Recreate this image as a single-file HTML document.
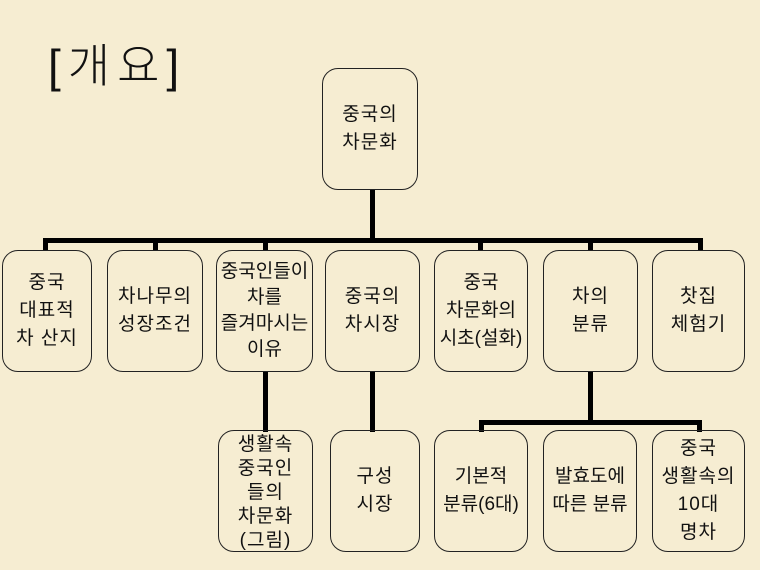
<!DOCTYPE html>
<html><head><meta charset="utf-8"><style>
body{margin:0;width:760px;height:570px;background:#f6edd2;position:relative;overflow:hidden;font-family:"Liberation Sans","Noto Sans CJK KR",sans-serif;}
.b{position:absolute;border:1.3px solid #222;border-radius:16px;box-sizing:border-box;display:flex;align-items:center;justify-content:center;text-align:center;font-size:19px;line-height:28px;letter-spacing:1px;color:#111;white-space:nowrap;overflow:visible;}
.l{position:absolute;background:#000;}
.t{position:absolute;left:48px;top:30px;font-size:46px;letter-spacing:7px;color:#111;font-weight:300;}
</style></head><body>
<div class="t">[개요]</div>
<div class="l" style="left:370px;top:190px;width:5px;height:52px"></div>
<div class="l" style="left:43px;top:238px;width:660px;height:5px"></div>
<div class="l" style="left:43px;top:238px;width:5px;height:13px"></div>
<div class="l" style="left:153px;top:238px;width:5px;height:13px"></div>
<div class="l" style="left:263px;top:238px;width:5px;height:13px"></div>
<div class="l" style="left:478px;top:238px;width:5px;height:13px"></div>
<div class="l" style="left:588px;top:238px;width:5px;height:13px"></div>
<div class="l" style="left:698px;top:238px;width:5px;height:13px"></div>
<div class="l" style="left:263px;top:372px;width:5px;height:60px"></div>
<div class="l" style="left:370px;top:372px;width:5px;height:60px"></div>
<div class="l" style="left:588px;top:372px;width:5px;height:52px"></div>
<div class="l" style="left:479px;top:420px;width:223px;height:5px"></div>
<div class="l" style="left:479px;top:420px;width:5px;height:12px"></div>
<div class="l" style="left:697px;top:420px;width:5px;height:12px"></div>

<div class="b" style="left:322px;top:68px;width:96px;height:122px">중국의<br>차문화</div>
<div class="b" style="left:2px;top:250px;width:90px;height:122px">중국<br>대표적<br>차 산지</div>
<div class="b" style="left:107px;top:250px;width:96px;height:122px">차나무의<br>성장조건</div>
<div class="b" style="left:216px;top:250px;width:97px;height:122px;letter-spacing:0;line-height:26px">중국인들이<br>차를<br>즐겨마시는<br>이유</div>
<div class="b" style="left:325px;top:250px;width:95px;height:122px">중국의<br>차시장</div>
<div class="b" style="left:434px;top:250px;width:94px;height:122px;letter-spacing:0">중국<br>차문화의<br>시초(설화)</div>
<div class="b" style="left:543px;top:250px;width:95px;height:122px">차의<br>분류</div>
<div class="b" style="left:652px;top:250px;width:93px;height:122px">찻집<br>체험기</div>
<div class="b" style="left:218px;top:430px;width:95px;height:122px;line-height:24px;padding-top:4px">생활속<br>중국인<br>들의<br>차문화<br>(그림)</div>
<div class="b" style="left:330px;top:430px;width:90px;height:122px">구성<br>시장</div>
<div class="b" style="left:434px;top:430px;width:94px;height:122px;letter-spacing:0">기본적<br>분류(6대)</div>
<div class="b" style="left:543px;top:430px;width:94px;height:122px;letter-spacing:0">발효도에<br>따른 분류</div>
<div class="b" style="left:652px;top:430px;width:93px;height:122px">중국<br>생활속의<br>10대<br>명차</div>
</body></html>
